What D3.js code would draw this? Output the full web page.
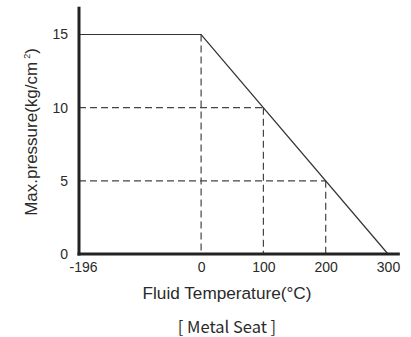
<!DOCTYPE html>
<html>
<head>
<meta charset="utf-8">
<script src="https://cdn.jsdelivr.net/npm/d3@7"></script>
<style>
  body { margin: 0; background: #fff; }
  text { font-family: "Liberation Sans", Arial, sans-serif; fill: #2a2a2a; }
</style>
</head>
<body>
<svg width="411" height="337"></svg>
<script>
// rating curve (temperature °C, pressure kg/cm2)
const temps = [-196, 0, 300];
const pressures = [15, 15, 0];

// dashed guide points
const guideTemps = [0, 100, 200];
const guidePressures = [15, 10, 5];

const xTicks = [-196, 0, 100, 200, 300];
const yTicks = [0, 5, 10, 15];

const svg = d3.select('svg');

// scales
const x = d3.scaleLinear().domain([-196, 300]).range([79, 388]);
const y = d3.scaleLinear().domain([0, 15]).range([254, 34.5]);
const xEnd = 319;   // axis runs past the last tick
const yEnd = 16.9;

// dashed guides
const guides = guideTemps.map((t, i) => ({ t: t, p: guidePressures[i] }));
svg.append('g')
    .selectAll('line.v')
    .data(guides)
    .enter().append('line')
    .attr('x1', d => x(d.t)).attr('x2', d => x(d.t))
    .attr('y1', d => y(d.p)).attr('y2', y(0))
    .attr('stroke', '#444').attr('stroke-width', 1.2)
    .attr('stroke-dasharray', '7,4');

svg.append('g')
    .selectAll('line.h')
    .data(guides.filter(d => d.p < 15))
    .enter().append('line')
    .attr('x1', x(-196)).attr('x2', d => x(d.t))
    .attr('y1', d => y(d.p)).attr('y2', d => y(d.p))
    .attr('stroke', '#444').attr('stroke-width', 1.2)
    .attr('stroke-dasharray', '7,4');

// the curve
const pts = temps.map((t, i) => [t, pressures[i]]);
svg.append('path')
    .datum(pts)
    .attr('fill', 'none')
    .attr('stroke', '#333')
    .attr('stroke-width', 1.2)
    .attr('d', d3.line().x(d => x(d[0])).y(d => y(d[1])));

// axes (no tick marks, thick domain drawn separately)
const xAxis = svg.append('g')
    .attr('transform', `translate(0,${y(0)})`)
    .call(d3.axisBottom(x).tickValues(xTicks).tickSize(0).tickPadding(8)
        .tickFormat(d => String(d)));
xAxis.select('.domain').remove();
xAxis.selectAll('text')
    .attr('font-size', 14)
    .attr('font-family', '"Liberation Sans", Arial, sans-serif')
    .attr('fill', '#2a2a2a')
    .attr('dx', d => d === -196 ? 4 : 0);

const yAxis = svg.append('g')
    .attr('transform', `translate(${x(-196)},0)`)
    .call(d3.axisLeft(y).tickValues(yTicks).tickSize(0).tickPadding(11));
yAxis.select('.domain').remove();
yAxis.selectAll('text')
    .attr('font-size', 14)
    .attr('font-family', '"Liberation Sans", Arial, sans-serif')
    .attr('fill', '#2a2a2a');

svg.append('line')
    .attr('x1', x(-196)).attr('x2', x(-196))
    .attr('y1', y(0) + 1.5).attr('y2', y(yEnd))
    .attr('stroke', '#222').attr('stroke-width', 3);
svg.append('line')
    .attr('x1', x(-196) - 1.5).attr('x2', x(xEnd))
    .attr('y1', y(0)).attr('y2', y(0))
    .attr('stroke', '#222').attr('stroke-width', 3);

// titles
svg.append('text')
    .attr('x', 227).attr('y', 299)
    .attr('text-anchor', 'middle')
    .attr('font-size', 17.2)
    .text('Fluid Temperature(°C)');

const yt = svg.append('text')
    .attr('transform', 'translate(37,132) rotate(-90)')
    .attr('text-anchor', 'middle')
    .attr('font-size', 17);
yt.append('tspan').text('Max.pressure(kg/cm');
yt.append('tspan').attr('font-size', 9).attr('dx', 3).attr('dy', -7).text('2');
yt.append('tspan').attr('dy', 7).text(')');

svg.append('text')
    .attr('x', 227).attr('y', 333)
    .attr('text-anchor', 'middle')
    .attr('font-size', 16.5)
    .style('font-family', '"Noto Sans CJK SC", "Noto Sans", sans-serif')
    .text('[ Metal Seat ]');
</script>
</body>
</html>
